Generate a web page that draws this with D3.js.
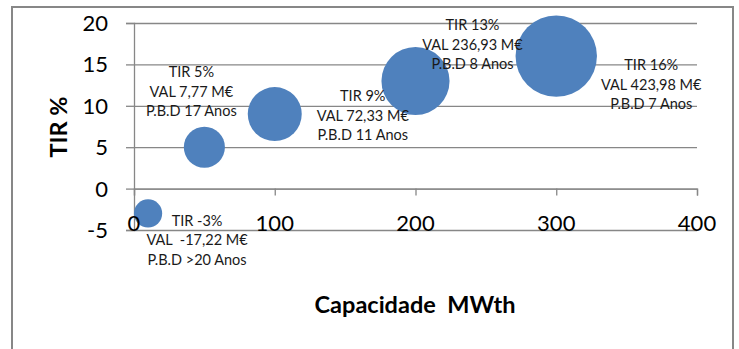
<!DOCTYPE html>
<html>
<head>
<meta charset="utf-8">
<script src="https://cdn.jsdelivr.net/npm/d3@7"></script>
<style>
  body { margin: 0; background: #fff; }
  svg { display: block; }
  text { font-family: Lato, "Open Sans", sans-serif; }
</style>
</head>
<body>
<div id="chart"></div>
<script>
const [WIDTH, HEIGHT] = [739, 349]

// data
const capacity = [10, 50, 100, 200, 300]          // MWth
const tir = [-3, 5, 9, 13, 16]                     // %
const bubbleSize = [12, 25.5, 44, 70, 100]         // relative bubble size
const labelLines = [
    ['TIR -3%', 'VAL  -17,22 M€', 'P.B.D >20 Anos'],
    ['TIR 5%', 'VAL 7,77 M€', 'P.B.D 17 Anos'],
    ['TIR 9%', 'VAL 72,33 M€', 'P.B.D 11 Anos'],
    ['TIR 13%', 'VAL 236,93 M€', 'P.B.D 8 Anos'],
    ['TIR 16%', 'VAL 423,98 M€', 'P.B.D 7 Anos'],
]
const xTicks = [0, 100, 200, 300, 400]
const yTicks = [-5, 0, 5, 10, 15, 20]
const xTitle = 'Capacidade  MWth'
const yTitle = 'TIR %'

// where each data label sits relative to its bubble (px)
const labelOffset = [[49, 7], [-13, -75], [88, -18], [57, -56], [95, 9]]
const LINE_H = 19.5

const svg = d3.select('#chart').append('svg')
    .attr('width', WIDTH)
    .attr('height', HEIGHT)

// outer chart frame (bottom runs off the picture)
svg.append('rect')
    .attr('x', 12).attr('y', 7)
    .attr('width', 721).attr('height', 400)
    .attr('fill', '#fff')
    .attr('stroke', '#878787')
    .attr('stroke-width', 2)

const x = d3.scaleLinear([0, 400], [134, 697])
const y = d3.scaleLinear([-5, 20], [230, 23])
const r = d3.scaleSqrt([0, 100], [0, 40.7])

// horizontal gridlines + y ticks
const yAxis = d3.axisLeft(y).tickValues(yTicks).tickSize(8).tickFormat('')
svg.append('g')
    .attr('transform', `translate(${x(0)},0)`)
    .call(yAxis)
    .call(g => g.select('.domain').attr('stroke', '#878787').attr('stroke-width', 1.3))
    .call(g => g.selectAll('.tick line').attr('stroke', '#878787').attr('stroke-width', 1.3))
    .call(g => g.selectAll('.tick line').clone()
        .attr('x2', x(400) - x(0)))

// x axis sits at TIR = 0, ticks hang below it
const xAxis = d3.axisBottom(x).tickValues(xTicks).tickSize(7).tickSizeOuter(7).tickFormat('')
svg.append('g')
    .attr('transform', `translate(0,${y(0)})`)
    .call(xAxis)
    .call(g => g.select('.domain').attr('stroke', '#878787').attr('stroke-width', 1.3))
    .call(g => g.selectAll('.tick line').attr('stroke', '#878787').attr('stroke-width', 1.3))

const points = capacity.map((c, i) => ({ c, t: tir[i], s: bubbleSize[i], lines: labelLines[i], off: labelOffset[i] }))

svg.append('g').selectAll('circle')
    .data(points)
    .join('circle')
    .attr('cx', d => x(d.c))
    .attr('cy', d => y(d.t))
    .attr('r', d => r(d.s))
    .attr('fill', '#4f81bd')

// data labels
const labels = svg.append('g')
    .attr('font-size', 14.5)
    .attr('fill', '#1a1a1a')
    .attr('text-anchor', 'middle')
    .selectAll('text')
    .data(points)
    .join('text')
    .attr('xml:space', 'preserve')
    .style('white-space', 'pre')
labels.selectAll('tspan')
    .data(d => d.lines.map((l, j) => ({ l, j, d })))
    .join('tspan')
    .attr('x', e => x(e.d.c) + e.d.off[0])
    .attr('y', e => y(e.d.t) + e.d.off[1] + e.j * LINE_H)
    .attr('dy', '0.36em')
    .text(e => e.l)

// tick labels (drawn over the bubbles)
svg.append('g')
    .attr('font-size', 22)
    .attr('text-anchor', 'end')
    .selectAll('text')
    .data(yTicks)
    .join('text')
    .attr('x', 108)
    .attr('y', d => y(d))
    .attr('dy', '0.36em')
    .text(d => d)

svg.append('g')
    .attr('font-size', 22)
    .attr('text-anchor', 'middle')
    .selectAll('text')
    .data(xTicks)
    .join('text')
    .attr('x', d => x(d))
    .attr('y', y(-5) + 1)
    .text(d => d)

svg.append('text')
    .attr('x', 415).attr('y', 313)
    .attr('text-anchor', 'middle')
    .attr('font-size', 23.5)
    .attr('font-weight', 'bold')
    .style('white-space', 'pre')
    .text(xTitle)

svg.append('text')
    .attr('transform', 'translate(67,127) rotate(-90)')
    .attr('text-anchor', 'middle')
    .attr('font-size', 23.5)
    .attr('font-weight', 'bold')
    .text(yTitle)
</script>
</body>
</html>
